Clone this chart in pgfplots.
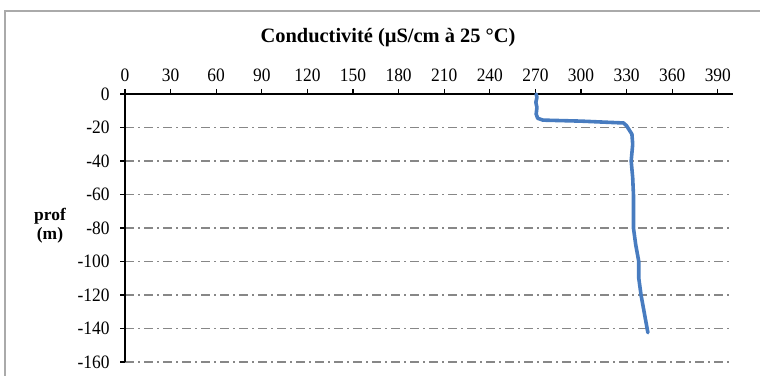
\documentclass[border=0pt]{standalone}
\usepackage{fontspec}
\setmainfont{Liberation Serif}
\newfontfamily\tickfont[FakeStretch=0.92]{Liberation Serif}
\usepackage{pgfplots}
\pgfplotsset{compat=1.18}

\definecolor{profblue}{RGB}{72,124,192}
\definecolor{gridgray}{RGB}{135,135,135}
\definecolor{framegray}{RGB}{170,170,170}

\begin{document}
\begin{tikzpicture}[x=1bp,y=1bp]
  \useasboundingbox (0,0) rectangle (760,375);
  % outer chart frame
  \draw[framegray, line width=1.3bp] (5,-2) -- (5,364) -- (762,364);
  % title and vertical axis label
  \node[font=\bfseries\fontsize{20.5}{23}\selectfont] at (388,337) {Conductivité (µS/cm à 25 °C)};
  \node[font=\bfseries\fontsize{17.5}{19}\selectfont, align=center] at (50,149) {prof\\(m)};
  \begin{axis}[
    at={(125bp,13bp)}, anchor=south west,
    scale only axis, width=608bp, height=268bp,
    xmin=0, xmax=400, ymin=-160, ymax=0,
    axis x line*=top, axis y line*=left,
    axis line style={line width=1.4bp, black},
    xtick={0,30,...,390}, ytick={-160,-140,...,0},
    xtick pos=top, ytick pos=left,
    xticklabel pos=upper,
    tick align=outside,
    major tick length=5bp,
    tick style={line width=1.2bp, black},
    tick label style={font=\tickfont\fontsize{19}{21}\selectfont},
    /pgf/number format/assume math mode=true,
    xticklabel style={yshift=4bp},
    yticklabel style={xshift=-7bp},
    ymajorgrids,
    grid style={gridgray, line width=1.1bp, dash pattern=on 9bp off 4bp on 2bp off 4bp},
    clip=false,
  ]
    \addplot[profblue, line width=3.6bp, line join=round, line cap=round] coordinates {
      (270.5,0) (271,-2) (270.3,-5) (271,-8) (270.5,-12) (271.5,-14.5)
      (275,-15.6) (300,-16.2) (328,-17.3) (330,-19) (333.5,-24)
      (334,-30) (333,-40) (334,-50) (334.5,-60) (334.5,-70) (334.5,-80)
      (336,-90) (338,-100) (338,-110) (339.5,-120) (341.5,-130) (344,-142.5)
    };
  \end{axis}
\end{tikzpicture}
\end{document}
